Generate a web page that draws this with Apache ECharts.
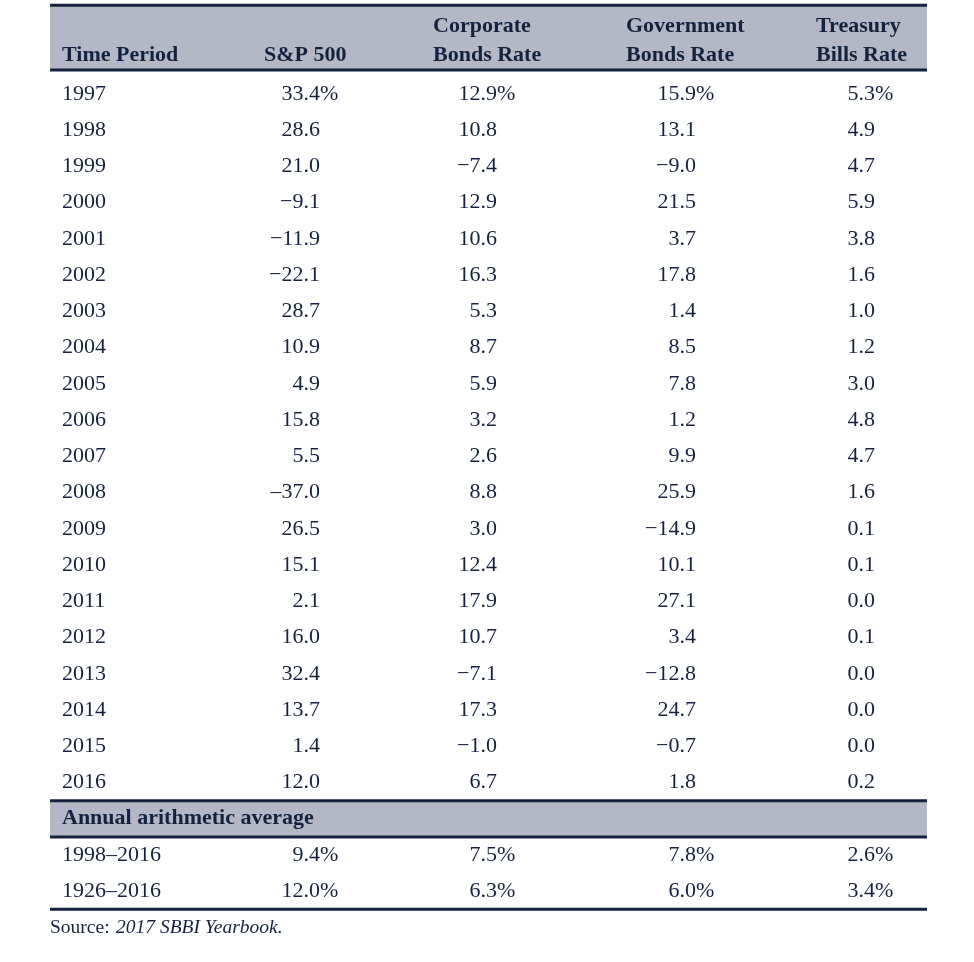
<!DOCTYPE html>
<html><head><meta charset="utf-8">
<script src="https://cdn.jsdelivr.net/npm/echarts@6/dist/echarts.min.js"></script>
<style>html,body{margin:0;padding:0;background:#fff}#c{width:974px;height:962px}</style>
</head><body><div id="c"></div>
<script>
// ---- data ----
const years = ['1997','1998','1999','2000','2001','2002','2003','2004','2005','2006','2007','2008','2009','2010','2011','2012','2013','2014','2015','2016'];
const sp500 = [33.4, 28.6, 21.0, -9.1, -11.9, -22.1, 28.7, 10.9, 4.9, 15.8, 5.5, -37.0, 26.5, 15.1, 2.1, 16.0, 32.4, 13.7, 1.4, 12.0];
const corporate = [12.9, 10.8, -7.4, 12.9, 10.6, 16.3, 5.3, 8.7, 5.9, 3.2, 2.6, 8.8, 3.0, 12.4, 17.9, 10.7, -7.1, 17.3, -1.0, 6.7];
const government = [15.9, 13.1, -9.0, 21.5, 3.7, 17.8, 1.4, 8.5, 7.8, 1.2, 9.9, 25.9, -14.9, 10.1, 27.1, 3.4, -12.8, 24.7, -0.7, 1.8];
const tbills = [5.3, 4.9, 4.7, 5.9, 3.8, 1.6, 1.0, 1.2, 3.0, 4.8, 4.7, 1.6, 0.1, 0.1, 0.0, 0.1, 0.0, 0.0, 0.0, 0.2];
const avgPeriods = ['1998–2016', '1926–2016'];
const avgSP500 = [9.4, 12.0];
const avgCorporate = [7.5, 6.3];
const avgGovernment = [7.8, 6.0];
const avgTbills = [2.6, 3.4];
const headers = [['', 'Time Period'], ['', 'S&P 500'], ['Corporate', 'Bonds Rate'], ['Government', 'Bonds Rate'], ['Treasury', 'Bills Rate']];
const avgTitle = 'Annual arithmetic average';
const sourceLabel = 'Source: ';
const sourceItalic = '2017 SBBI Yearbook';

// ---- layout ----
const NAVY = '#15223f';
const BAND = '#b3b7c6';
const SERIF = '"Liberation Serif", "DejaVu Serif", serif';
const colX = [62, 320, 497, 696, 875];      // number right anchor (col 0: left anchor)
const headX = [62, 264, 433, 626, 816];
const tableL = 50, tableR = 927;

function fmt(v) {
  const s = Math.abs(v).toFixed(1);
  if (v < 0) return (v === -37.0 ? '–' : '−') + s;
  return s;
}

const cells = [];
headers.forEach((h, c) => {
  if (h[0]) cells.push({x: headX[c], row: -1.86, text: h[0], bold: true, align: 'left'});
  cells.push({x: headX[c], row: -1.06, text: h[1], bold: true, align: 'left'});
});
const cols = [sp500, corporate, government, tbills];
years.forEach((y, i) => {
  cells.push({x: colX[0], row: i, text: y, align: 'left'});
  cols.forEach((arr, c) => {
    cells.push({x: colX[c + 1], row: i, text: fmt(arr[i]), align: 'right'});
    if (i === 0) cells.push({x: colX[c + 1], row: i, text: '%', align: 'left'});
  });
});
cells.push({x: colX[0], row: 20, text: avgTitle, bold: true, align: 'left'});
const avgCols = [avgSP500, avgCorporate, avgGovernment, avgTbills];
avgPeriods.forEach((p, k) => {
  const r = 21 + k;
  cells.push({x: colX[0], row: r, text: p, align: 'left'});
  avgCols.forEach((arr, c) => {
    cells.push({x: colX[c + 1], row: r, text: fmt(arr[k]), align: 'right'});
    cells.push({x: colX[c + 1], row: r, text: '%', align: 'left'});
  });
});

// bands [rowTop,rowBottom] and rules at row positions
const bands = [[-2.45, -0.66], [19.5, 20.5]];
const rules = [-2.45, -0.66, 19.5, 20.5, 22.5];

const chart = echarts.init(document.getElementById('c'), null, {renderer: 'canvas'});
chart.setOption({
  animation: false,
  grid: {left: 0, right: 0, top: 3.4, bottom: 16.4},
  xAxis: {type: 'value', min: 0, max: 974, show: false},
  yAxis: {type: 'value', min: -2.5, max: 23.5, inverse: true, show: false},
  series: [
    {
      type: 'custom', clip: false, z: 1,
      data: bands.map(b => [tableL, b[0]]),
      renderItem: (params, api) => {
        const b = bands[params.dataIndex];
        const p0 = api.coord([tableL, b[0]]);
        const p1 = api.coord([tableR, b[1]]);
        return {type: 'rect', shape: {x: p0[0], y: p0[1], width: p1[0] - p0[0], height: p1[1] - p0[1]}, style: {fill: BAND}};
      }
    },
    {
      type: 'custom', clip: false, z: 2,
      data: rules.map(r => [tableL, r]),
      renderItem: (params, api) => {
        const r = rules[params.dataIndex];
        const p0 = api.coord([tableL, r]);
        const p1 = api.coord([tableR, r]);
        return {type: 'line', shape: {x1: p0[0], y1: p0[1], x2: p1[0], y2: p1[1]}, style: {stroke: NAVY, lineWidth: 3}};
      }
    },
    {
      type: 'custom', clip: false, z: 3,
      data: cells.map(c => [c.x, c.row]),
      renderItem: (params, api) => {
        const c = cells[params.dataIndex];
        const p = api.coord([c.x, c.row]);
        return {type: 'text', x: p[0], y: p[1], style: {
          text: c.text, fill: NAVY, align: c.align, verticalAlign: 'middle',
          font: (c.bold ? 'bold ' : '') + '22px ' + SERIF
        }};
      }
    },
    {
      type: 'custom', clip: false, z: 3,
      data: [[tableL, 23.0]],
      renderItem: (params, api) => {
        const p = api.coord([tableL, 23.0]);
        return {type: 'group', children: [
          {type: 'text', x: p[0], y: p[1], style: {text: sourceLabel, fill: NAVY, align: 'left', verticalAlign: 'middle', font: '19.5px ' + SERIF}},
          {type: 'text', x: p[0] + 66, y: p[1], style: {text: sourceItalic + '.', fill: NAVY, align: 'left', verticalAlign: 'middle', font: 'italic 19.5px ' + SERIF}}
        ]};
      }
    }
  ]
});
</script></body></html>
